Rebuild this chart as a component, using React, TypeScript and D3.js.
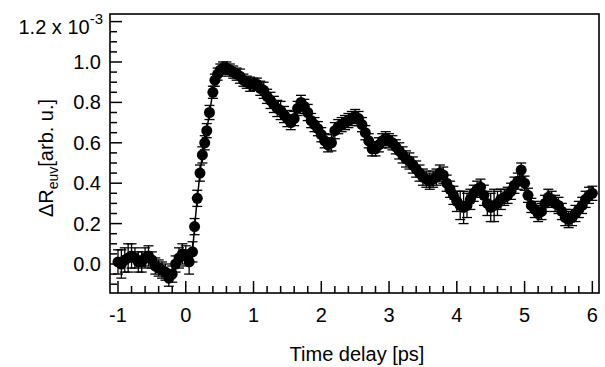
import React from "react";
import * as d3 from "d3";

// Time delay [ps]
const times: number[] = [
  -1.0, -0.95, -0.9, -0.85, -0.8, -0.75, -0.7, -0.65, -0.6, -0.55, -0.5, -0.45, -0.4, -0.35, -0.3, -0.25, -0.2, -0.15, -0.1, -0.05,
  0.0, 0.05, 0.1, 0.13, 0.17, 0.21, 0.245, 0.28, 0.31, 0.35, 0.4, 0.43, 0.47, 0.51, 0.55, 0.6, 0.65,
  0.7, 0.75, 0.8, 0.85, 0.9, 0.95, 1.0, 1.05, 1.1, 1.15, 1.2, 1.25, 1.3, 1.35, 1.4, 1.45, 1.5, 1.55, 1.6, 1.65,
  1.7, 1.75, 1.8, 1.85, 1.9, 1.95, 2.0, 2.05, 2.1, 2.15, 2.2, 2.25, 2.3, 2.35, 2.4, 2.45, 2.5, 2.55, 2.6, 2.65,
  2.7, 2.75, 2.8, 2.85, 2.9, 2.95, 3.0, 3.05, 3.1, 3.15, 3.2, 3.25, 3.3, 3.35, 3.4, 3.45, 3.5, 3.55, 3.6, 3.65,
  3.7, 3.75, 3.8, 3.85, 3.9, 3.95, 4.0, 4.05, 4.1, 4.15, 4.2, 4.25, 4.3, 4.35, 4.4, 4.45, 4.5, 4.55, 4.6, 4.65,
  4.7, 4.75, 4.8, 4.85, 4.9, 4.95, 5.0, 5.05, 5.1, 5.15, 5.2, 5.25, 5.3, 5.35, 5.4, 5.45, 5.5, 5.55, 5.6, 5.65,
  5.7, 5.75, 5.8, 5.85, 5.9, 5.95, 6.0,
];

// ΔR_euv [x 10^-3 arb. u.]
const deltaR: number[] = [
  0.01, 0.0, 0.02, 0.03, 0.04, 0.03, 0.01, 0.01, 0.03, 0.04, 0.02, -0.01, -0.02, -0.03, -0.04, -0.07, -0.05, 0.0, 0.03, 0.05,
  0.04, 0.01, 0.06, 0.185, 0.325, 0.45, 0.54, 0.6, 0.66, 0.75, 0.85, 0.91, 0.94, 0.96, 0.97, 0.97, 0.96,
  0.95, 0.94, 0.93, 0.91, 0.9, 0.89, 0.89, 0.89, 0.87, 0.86, 0.83, 0.81, 0.79, 0.77, 0.76, 0.74, 0.72, 0.7, 0.72, 0.77,
  0.8, 0.78, 0.75, 0.71, 0.69, 0.67, 0.64, 0.61, 0.59, 0.6, 0.66, 0.68, 0.69, 0.7, 0.71, 0.72, 0.73, 0.72, 0.69, 0.65,
  0.61, 0.57, 0.57, 0.59, 0.61, 0.62, 0.61, 0.6, 0.58, 0.56, 0.54, 0.52, 0.51, 0.49, 0.47, 0.45, 0.43, 0.42, 0.41, 0.42,
  0.43, 0.45, 0.44, 0.4, 0.37, 0.34, 0.31, 0.29, 0.28, 0.29, 0.32, 0.35, 0.37, 0.38, 0.34, 0.3, 0.28, 0.29, 0.3, 0.32,
  0.33, 0.34, 0.36, 0.39, 0.41, 0.465, 0.4, 0.34, 0.29, 0.27, 0.25, 0.26, 0.3, 0.33, 0.32, 0.3, 0.29, 0.26, 0.23, 0.22,
  0.23, 0.25, 0.27, 0.29, 0.32, 0.34, 0.35,
];

// error bar half-heights
const errors: number[] = [
  0.06, 0.07, 0.06, 0.07, 0.06, 0.05, 0.05, 0.05, 0.05, 0.05, 0.04, 0.04, 0.04, 0.04, 0.04, 0.04, 0.04, 0.04, 0.05, 0.05,
  0.05, 0.06, 0.05, 0.04, 0.04, 0.04, 0.04, 0.035, 0.035, 0.035, 0.03, 0.03, 0.03, 0.03, 0.03, 0.03, 0.03,
  0.03, 0.03, 0.035, 0.03, 0.03, 0.035, 0.03, 0.03, 0.035, 0.04, 0.035, 0.04, 0.04, 0.04, 0.045, 0.04, 0.04, 0.035, 0.035, 0.035,
  0.035, 0.035, 0.04, 0.035, 0.035, 0.035, 0.035, 0.035, 0.035, 0.04, 0.04, 0.035, 0.035, 0.035, 0.035, 0.035, 0.035, 0.035, 0.035, 0.035,
  0.035, 0.035, 0.035, 0.035, 0.035, 0.035, 0.035, 0.035, 0.035, 0.04, 0.04, 0.04, 0.04, 0.04, 0.04, 0.04, 0.04, 0.04, 0.04, 0.04,
  0.04, 0.04, 0.04, 0.04, 0.04, 0.045, 0.05, 0.07, 0.08, 0.06, 0.05, 0.04, 0.04, 0.04, 0.05, 0.06, 0.07, 0.08, 0.06, 0.05,
  0.04, 0.04, 0.04, 0.04, 0.04, 0.035, 0.035, 0.035, 0.035, 0.04, 0.04, 0.04, 0.04, 0.04, 0.04, 0.04, 0.04, 0.04, 0.04, 0.04,
  0.04, 0.04, 0.04, 0.04, 0.04, 0.04, 0.035,
];

const xMajorTicks: number[] = [-1, 0, 1, 2, 3, 4, 5, 6];
const yMajorTicks: number[] = [0.0, 0.2, 0.4, 0.6, 0.8, 1.0, 1.2];
const yTickLabels: string[] = ["0.0", "0.2", "0.4", "0.6", "0.8", "1.0", "1.2 x 10"];

const W = 605;
const H = 367;
const left = 110;
const right = 599;
const top = 14;
const bottom = 293;
const FONT = "'Liberation Sans', Arial, Helvetica, sans-serif";

export default function App() {
  const x = d3.scaleLinear().domain([-1.118, 6.098]).range([left, right]);
  const y = d3.scaleLinear().domain([-0.1436, 1.2376]).range([bottom, top]);

  const xMinor = d3.range(-1, 6.0001, 0.2).map((v) => Math.round(v * 10) / 10).filter((v) => !xMajorTicks.some((m) => Math.abs(m - v) < 1e-6));
  const yMinor = d3.range(-0.1, 1.2001, 0.05).map((v) => Math.round(v * 100) / 100).filter((v) => !yMajorTicks.some((m) => Math.abs(m - v) < 1e-6));

  const pts = times.map((t, i) => ({ t, v: deltaR[i], e: errors[i] }));
  const capW = 5;

  return (
    <svg width={W} height={H} style={{ position: "absolute", left: 0, top: 0, background: "#fff" }} fontFamily={FONT}>
      <rect x={0} y={0} width={W} height={H} fill="#fff" />
      {/* error bars */}
      <g stroke="#000" strokeWidth={1.3} fill="none">
        {pts.map((p, i) => (
          <g key={"e" + i}>
            <line x1={x(p.t)} x2={x(p.t)} y1={y(p.v - p.e)} y2={y(p.v + p.e)} />
            <line x1={x(p.t) - capW} x2={x(p.t) + capW} y1={y(p.v - p.e)} y2={y(p.v - p.e)} />
            <line x1={x(p.t) - capW} x2={x(p.t) + capW} y1={y(p.v + p.e)} y2={y(p.v + p.e)} />
          </g>
        ))}
      </g>
      {/* connecting line */}
      <path d={d3.line<{ t: number; v: number }>().x((d) => x(d.t)).y((d) => y(d.v))(pts) || ""} stroke="#000" strokeWidth={1.5} fill="none" />
      {/* markers */}
      <g fill="#000">
        {pts.map((p, i) => (
          <circle key={"c" + i} cx={x(p.t)} cy={y(p.v)} r={5.5} />
        ))}
      </g>
      {/* frame */}
      <rect x={left} y={top} width={right - left} height={bottom - top} fill="none" stroke="#000" strokeWidth={1.6} />
      {/* ticks */}
      <g stroke="#000" strokeWidth={1.5}>
        {yMajorTicks.map((v) => (
          <line key={"ym" + v} x1={left} x2={left + 12} y1={y(v)} y2={y(v)} />
        ))}
        {yMinor.map((v) => (
          <line key={"yn" + v} x1={left} x2={left + 7} y1={y(v)} y2={y(v)} />
        ))}
        {xMajorTicks.map((v) => (
          <line key={"xm" + v} x1={x(v)} x2={x(v)} y1={bottom} y2={bottom - 12} />
        ))}
        {xMinor.map((v) => (
          <line key={"xn" + v} x1={x(v)} x2={x(v)} y1={bottom} y2={bottom - 7} />
        ))}
      </g>
      {/* y tick labels */}
      <g fontSize={20} fill="#000" textAnchor="end">
        {yMajorTicks.map((v, i) =>
          i === yMajorTicks.length - 1 ? (
            <text key={"yl" + v} x={103} y={y(v) + 12.5}>
              {yTickLabels[i]}
              <tspan fontSize={15} dy={-10}>-3</tspan>
            </text>
          ) : (
            <text key={"yl" + v} x={101} y={y(v) + 7}>
              {yTickLabels[i]}
            </text>
          )
        )}
      </g>
      {/* x tick labels */}
      <g fontSize={20} fill="#000" textAnchor="middle">
        {xMajorTicks.map((v) => (
          <text key={"xl" + v} x={x(v)} y={322}>
            {String(v)}
          </text>
        ))}
      </g>
      <text x={357} y={361} fontSize={20} textAnchor="middle" fill="#000">
        Time delay [ps]
      </text>
      <text transform={`translate(53,158) rotate(-90)`} fontSize={20} textAnchor="middle" fill="#000">
        ΔR<tspan fontSize={14} dy={5}>euv</tspan>
        <tspan dy={-5}>[arb. u.]</tspan>
      </text>
    </svg>
  );
}
